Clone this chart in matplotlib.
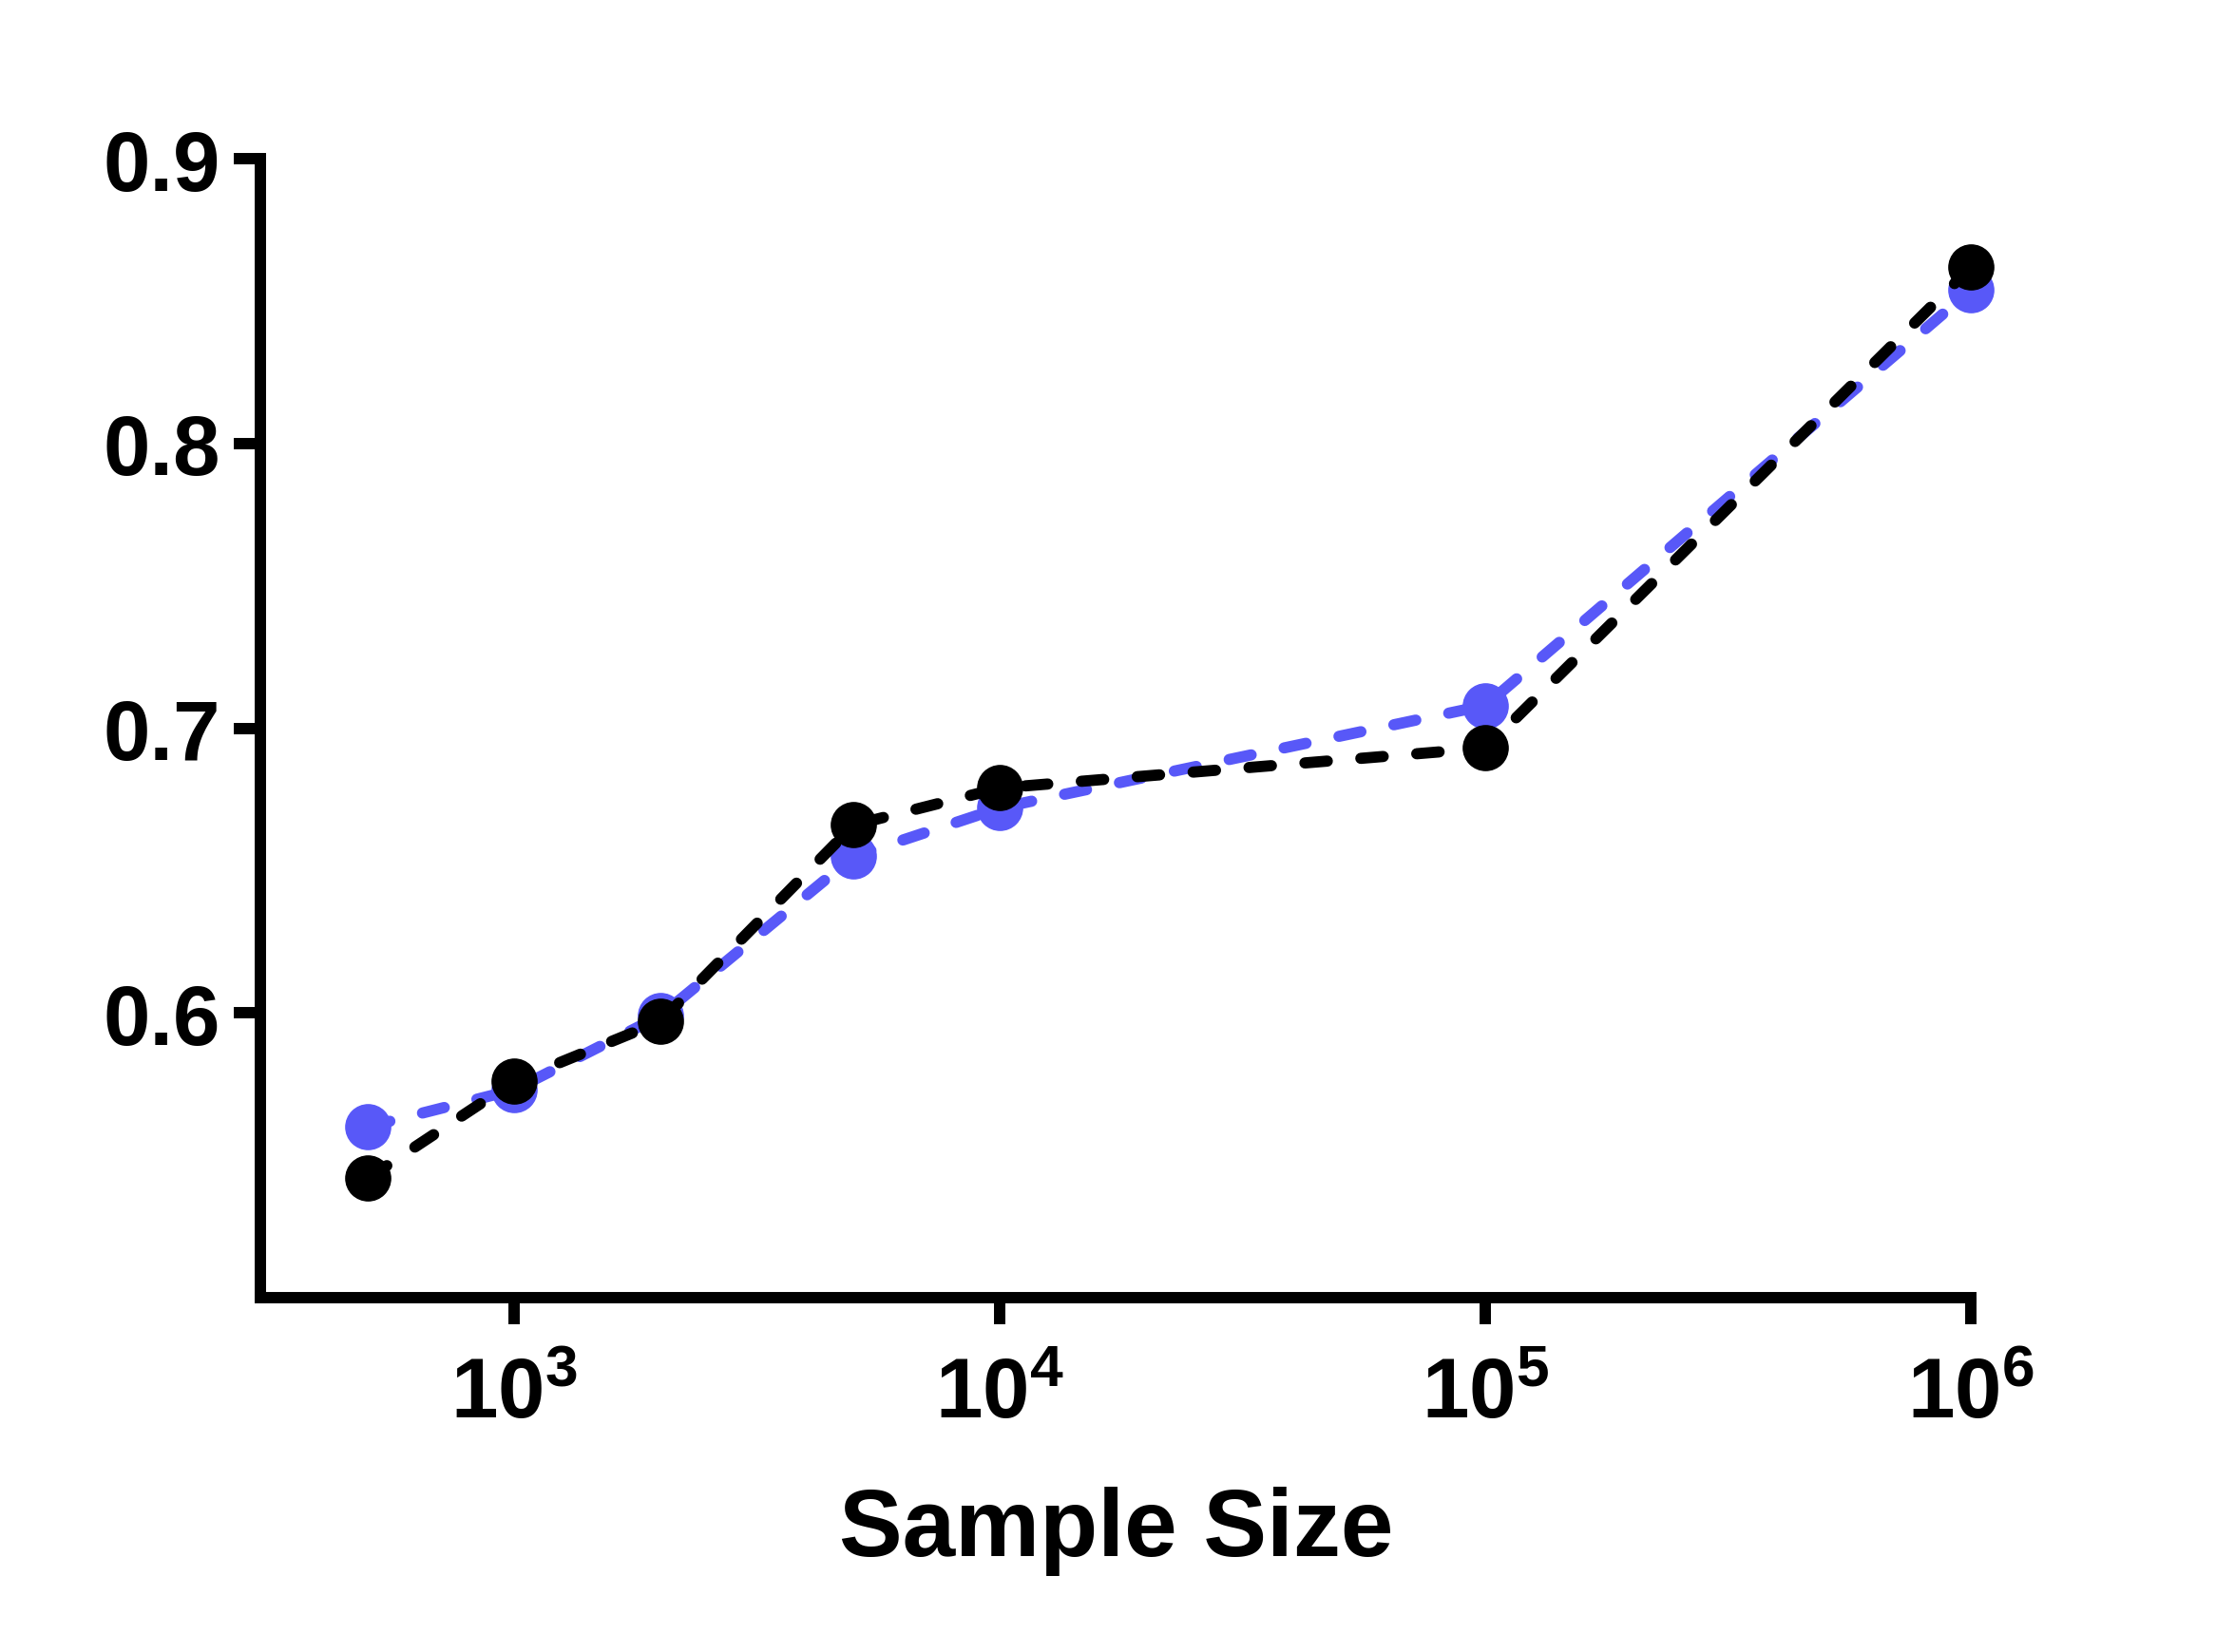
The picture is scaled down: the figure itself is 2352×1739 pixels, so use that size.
import matplotlib.pyplot as plt
from matplotlib.ticker import LogLocator, NullLocator

plt.rcParams['font.family'] = ['Liberation Sans', 'DejaVu Sans']
plt.rcParams['font.weight'] = 'bold'
plt.rcParams['mathtext.fontset'] = 'custom'
plt.rcParams['mathtext.rm'] = 'Liberation Sans:bold'
plt.rcParams['mathtext.bf'] = 'Liberation Sans:bold'

sample_size = [500, 1000, 2000, 5000, 10000, 100000, 1000000]
blue_vals = [0.560, 0.573, 0.599, 0.655, 0.672, 0.708, 0.854]
black_vals = [0.542, 0.576, 0.597, 0.666, 0.679, 0.693, 0.862]
y_ticks = [0.6, 0.7, 0.8, 0.9]

fig = plt.figure(figsize=(23.52, 17.40), dpi=100)
ax = fig.add_axes([0.1165, 0.2144, 0.882 - 0.1165, 0.9034 - 0.2144])

dash = (2.0, 3.0)
ax.plot(sample_size, blue_vals, color='#5858f8', lw=8.5, dashes=dash,
        dash_capstyle='round', marker='o', ms=34, zorder=2, clip_on=False)
ax.plot(sample_size, black_vals, color='black', lw=8.5, dashes=dash,
        dash_capstyle='round', marker='o', ms=34, zorder=3, clip_on=False)

ax.set_xscale('log')
ax.set_xlim(300, 1e6)
ax.set_ylim(0.5, 0.9)
ax.xaxis.set_major_locator(LogLocator(base=10, numticks=10))
ax.xaxis.set_minor_locator(NullLocator())
ax.set_yticks(y_ticks)
ax.set_yticklabels([f'{v:.1f}' for v in y_ticks])

for s in ['top', 'right']:
    ax.spines[s].set_visible(False)
for s in ['left', 'bottom']:
    ax.spines[s].set_linewidth(8.6)
    ax.spines[s].set_capstyle('projecting')

ax.tick_params(axis='both', width=8.6, length=20, labelsize=64)
ax.tick_params(axis='y', pad=10)
ax.tick_params(axis='x', pad=24)
for lbl in ax.get_yticklabels() + ax.get_xticklabels():
    lbl.set_fontweight('bold')

ax.set_xlabel('Sample Size', fontsize=72, fontweight='bold', labelpad=38)

fig.savefig('out.png', dpi=100)
